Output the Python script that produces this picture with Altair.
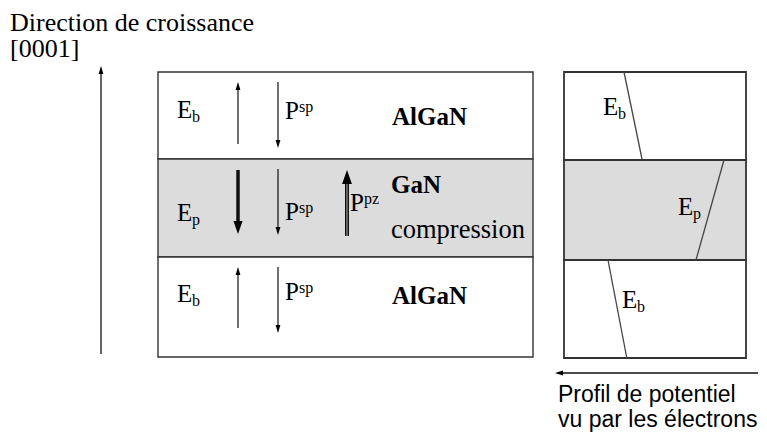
import altair as alt
import pandas as pd

# ---------------- data (diagram coordinates, 1 unit = 1 px) ----------------
# hetero-structure stack, top -> bottom
stack_names = ["AlGaN", "GaN", "AlGaN"]
stack_fill = ["#ffffff", "#dcdcdc", "#ffffff"]
left_x = [158, 533]
left_top = [72, 159, 257]
left_bot = [159, 257, 357]
right_x = [564, 746]
right_top = [72, 160, 260]
right_bot = [160, 260, 358]

# potential profile segments in the right panel (x_top, y_top, x_bot, y_bot)
prof_x1 = [624, 724, 608]
prof_y1 = [72, 160, 260]
prof_x2 = [642, 696, 627]
prof_y2 = [159, 260, 359]

# arrows: tail (x, y) -> tip (x, y), line width, head half-length
arr_x = [101, 238, 278, 238, 278, 347, 238, 278, 758]
arr_y = [354, 144, 82, 170, 169, 236, 328, 267, 373]
arr_tx = [101, 238, 278, 238, 278, 347, 238, 278, 555]
arr_ty = [66, 82, 148, 234, 235, 170, 267, 333, 373]
arr_w = [1.3, 1.2, 1.2, 3.5, 1.2, 4.0, 1.2, 1.2, 1.3]
arr_head = [4, 4, 4, 6.5, 4, 7, 4, 4, 4]

# labels
e_lbl_x = [177, 177, 177, 603, 678, 622]
e_lbl_y = [118, 221, 302, 115, 215, 308]
e_sub = ["b", "p", "b", "b", "p", "b"]
p_lbl_x = [285, 285, 285, 350]
p_lbl_y = [119, 220, 300, 211]
p_sup = ["sp", "sp", "sp", "pz"]

# ---------------- scales ----------------
xs = alt.Scale(domain=[8, 759], nice=False, zero=False)
ys = alt.Scale(domain=[8, 433], nice=False, zero=False, reverse=True)


def X(f="x"):
    return alt.X(f, type="quantitative", scale=xs, axis=None)


def Y(f="y"):
    return alt.Y(f, type="quantitative", scale=ys, axis=None)


# ---------------- rectangles ----------------
rect_rows = []
for i in range(3):
    rect_rows.append(dict(x=left_x[0], x2=left_x[1], y=left_top[i], y2=left_bot[i],
                          fill=stack_fill[i], sw=1.4))
    rect_rows.append(dict(x=right_x[0], x2=right_x[1], y=right_top[i], y2=right_bot[i],
                          fill=stack_fill[i], sw=1.8))
rects = alt.Chart(pd.DataFrame(rect_rows)).mark_rect(stroke="#333333").encode(
    x=X(), x2="x2", y=Y(), y2="y2",
    fill=alt.Fill("fill:N", scale=None),
    strokeWidth=alt.StrokeWidth("sw:Q", scale=None),
)

# ---------------- profile lines ----------------
prof = alt.Chart(pd.DataFrame(dict(x=prof_x1, y=prof_y1, x2=prof_x2, y2=prof_y2))).mark_rule(
    color="#444444", strokeWidth=1.3
).encode(x=X(), y=Y(), x2="x2", y2="y2")

# ---------------- arrows ----------------
shaft_rows, head_rows = [], []
for i in range(len(arr_x)):
    x0, y0, x1, y1 = arr_x[i], arr_y[i], arr_tx[i], arr_ty[i]
    r = arr_head[i]
    ratio = 0.6 if r < 5 else 0.7
    if x0 == x1:  # vertical
        d = 1 if y1 < y0 else -1  # 1 = up
        cy = y1 + d * r
        shaft_rows.append(dict(x=x0, y=y0, x2=x1, y2=cy, w=arr_w[i]))
        if d == 1:
            path = f"M0,-1L-{ratio},1L{ratio},1Z"
        else:
            path = f"M0,1L-{ratio},-1L{ratio},-1Z"
        head_rows.append(dict(x=x1, y=cy, shape=path, size=(2 * r) ** 2))
    else:  # horizontal, pointing left
        cx = x1 + r
        shaft_rows.append(dict(x=x0, y=y0, x2=cx, y2=y1, w=arr_w[i]))
        path = f"M-1,0L1,-{ratio}L1,{ratio}Z"
        head_rows.append(dict(x=cx, y=y1, shape=path, size=(2 * r) ** 2))

shafts = alt.Chart(pd.DataFrame(shaft_rows)).mark_rule(color="#111111", strokeCap="butt").encode(
    x=X(), y=Y(), x2="x2", y2="y2",
    strokeWidth=alt.StrokeWidth("w:Q", scale=None),
)
# inner lighter stripe of the P_pz double arrow
ppz = alt.Chart(pd.DataFrame(dict(x=[347], y=[236], y2=[183]))).mark_rule(
    color="#9a9a9a", strokeWidth=1.2
).encode(x=X(), y=Y(), y2="y2")

heads = alt.Chart(pd.DataFrame(head_rows)).mark_point(
    filled=True, color="#000000", opacity=1, strokeWidth=0
).encode(
    x=X(), y=Y(),
    shape=alt.Shape("shape:N", scale=None),
    size=alt.Size("size:Q", scale=None),
)

# ---------------- texts ----------------
SERIF = "Liberation Serif"
SANS = "Liberation Sans"


def txt(xv, yv, tv, font, size, weight="normal"):
    return alt.Chart(pd.DataFrame(dict(x=xv, y=yv, t=tv))).mark_text(
        font=font, fontSize=size, fontWeight=weight, align="left", baseline="alphabetic", color="#000000"
    ).encode(x=X(), y=Y(), text="t:N")


e_main = txt(e_lbl_x, e_lbl_y, ["E"] * 6, SERIF, 25)
e_subs = txt([v + 15 for v in e_lbl_x], [v + 4 for v in e_lbl_y], e_sub, SERIF, 16)
p_main = txt(p_lbl_x, p_lbl_y, ["P"] * 4, SERIF, 25)
p_sups = txt([v + 14 for v in p_lbl_x], [v - 7 for v in p_lbl_y], p_sup, SERIF, 16)
mat_bold = txt([392, 391, 392], [125, 193, 304], stack_names, SERIF, 25, "bold")
compr = txt([391], [238], ["compression"], SERIF, 26.5)
title = txt([10, 10], [31, 57], ["Direction de croissance", "[0001]"], SERIF, 26)
sans = txt([558, 558], [402, 427], ["Profil de potentiel", "vu par les électrons"], SANS, 23)

chart = alt.layer(
    rects, prof, shafts, ppz, heads, e_main, e_subs, p_main, p_sups, mat_bold, compr, title, sans
).properties(
    width=751, height=425, padding=0, autosize=alt.AutoSizeParams(type="none"),
    background="#ffffff",
).configure_view(stroke=None)

chart.save("out.html", embed_options={"renderer": "svg", "actions": False})
